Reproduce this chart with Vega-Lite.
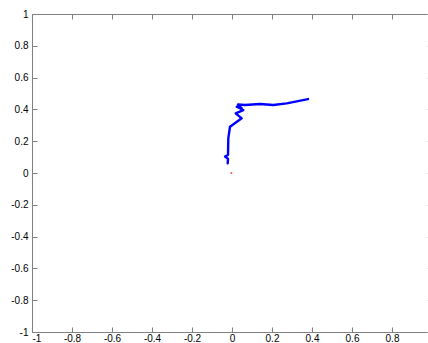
{
  "$schema": "https://vega.github.io/schema/vega-lite/v6.json",
  "width": 400,
  "height": 318,
  "autosize": {"type": "none"},
  "padding": {"left": 32, "top": 14, "right": 0, "bottom": 11},
  "background": "white",
  "config": {
    "view": {"stroke": null},
    "axis": {
      "grid": false,
      "domainColor": "#808080",
      "tickColor": "#808080",
      "tickSize": -5,
      "labelFont": "Liberation Sans",
      "labelFontSize": 10,
      "labelColor": "#000000",
      "labelExpr": "'' + datum.value",
      "titleFontSize": 0
    }
  },
  "datasets": {
    "path": [
      {"i": 1, "x": -0.0215, "y": 0.061},
      {"i": 2, "x": -0.02, "y": 0.09},
      {"i": 3, "x": -0.035, "y": 0.103},
      {"i": 4, "x": -0.02, "y": 0.113},
      {"i": 5, "x": -0.0185, "y": 0.218},
      {"i": 6, "x": -0.01, "y": 0.291},
      {"i": 7, "x": 0.0485, "y": 0.344},
      {"i": 8, "x": 0.0185, "y": 0.375},
      {"i": 9, "x": 0.0565, "y": 0.396},
      {"i": 10, "x": 0.0235, "y": 0.417},
      {"i": 11, "x": 0.0485, "y": 0.407},
      {"i": 12, "x": 0.03, "y": 0.431},
      {"i": 13, "x": 0.065, "y": 0.428},
      {"i": 14, "x": 0.14, "y": 0.434},
      {"i": 15, "x": 0.2065, "y": 0.428},
      {"i": 16, "x": 0.2735, "y": 0.438},
      {"i": 17, "x": 0.38, "y": 0.465}
    ],
    "origin": [{"x": -0.003, "y": 0}]
  },
  "layer": [
    {
      "data": {"name": "path"},
      "mark": {"type": "line", "color": "#0000ff", "strokeWidth": 2.4, "strokeJoin": "round", "strokeCap": "round"},
      "encoding": {
        "x": {"field": "x", "type": "quantitative", "scale": {"domain": [-1, 1], "nice": false, "zero": false},
          "axis": {"values": [-1, -0.8, -0.6, -0.4, -0.2, 0, 0.2, 0.4, 0.6, 0.8], "labelPadding": 6, "title": null}},
        "y": {"field": "y", "type": "quantitative", "scale": {"domain": [-1, 1], "nice": false, "zero": false},
          "axis": {"values": [-1, -0.8, -0.6, -0.4, -0.2, 0, 0.2, 0.4, 0.6, 0.8, 1], "labelPadding": 9, "title": null}},
        "order": {"field": "i", "type": "quantitative"}
      }
    },
    {
      "data": {"name": "origin"},
      "mark": {"type": "point", "shape": "circle", "filled": true, "color": "#ff0000", "size": 4},
      "encoding": {
        "x": {"field": "x", "type": "quantitative",
          "axis": {"orient": "top", "labels": false, "domain": true, "values": [-1, -0.8, -0.6, -0.4, -0.2, 0, 0.2, 0.4, 0.6, 0.8], "title": null}},
        "y": {"field": "y", "type": "quantitative",
          "axis": {"orient": "right", "labels": false, "domain": false, "tickColor": "#d0d0d0", "values": [-1, -0.8, -0.6, -0.4, -0.2, 0, 0.2, 0.4, 0.6, 0.8, 1], "title": null}}
      }
    }
  ],
  "resolve": {"axis": {"x": "independent", "y": "independent"}}
}
